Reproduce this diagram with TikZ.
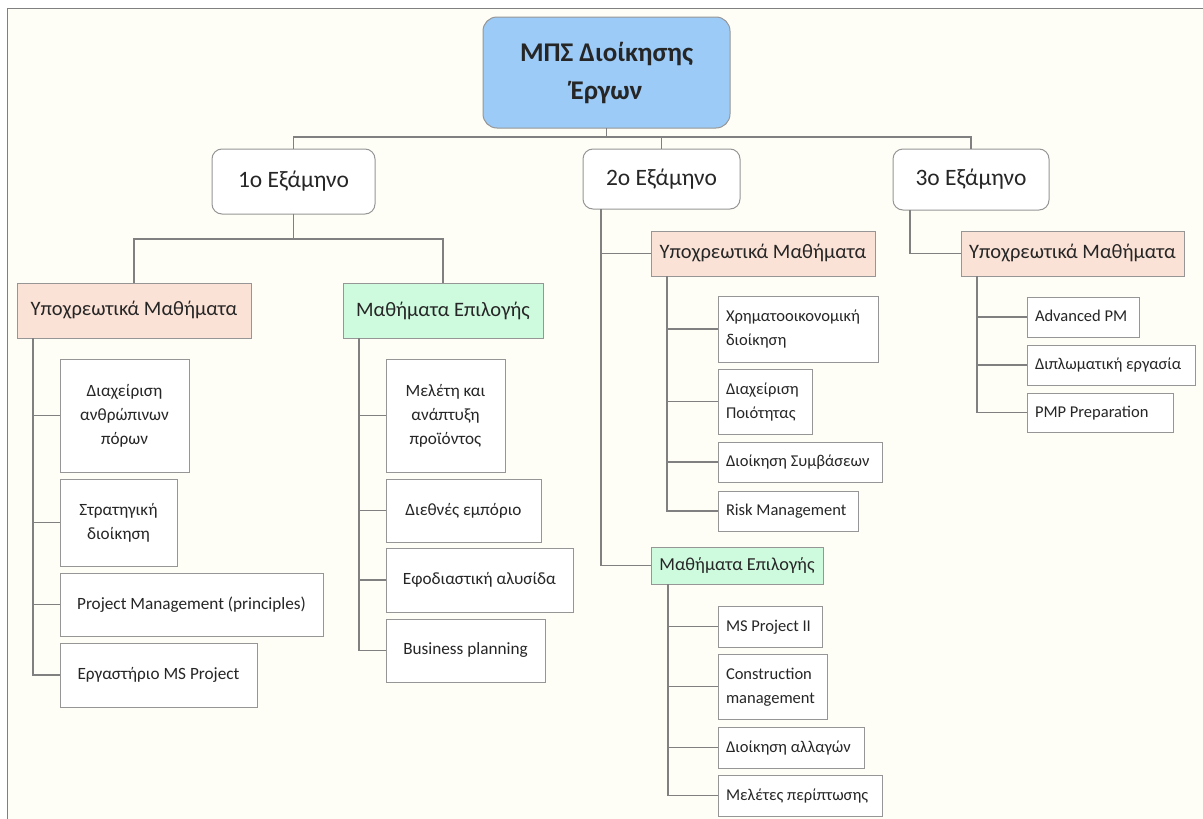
\documentclass[tikz,border=0pt]{standalone}
\usepackage{fontspec}
\setmainfont{Carlito}
\definecolor{bgc}{RGB}{255,254,246}
\definecolor{linec}{RGB}{128,128,128}
\definecolor{bordc}{RGB}{150,150,150}
\definecolor{salmon}{RGB}{251,226,214}
\definecolor{mint}{RGB}{206,250,222}
\definecolor{titleblue}{RGB}{156,203,247}
\definecolor{txt}{RGB}{38,38,38}
\newcommand\bx[7]{%
 \pgfmathsetmacro\bw{#5-#3}\pgfmathsetmacro\bh{#6-#4}%
 \pgfmathsetmacro\cx{(#3+#5)/2}\pgfmathsetmacro\cy{(#4+#6)/2}%
 \node[#2, minimum width=\bw pt, minimum height=\bh pt] (#1) at (\cx,\cy) {#7};}
\newcommand\bxl[7]{%
 \pgfmathsetmacro\tw{#5-#3-16}%
 \bx{#1}{#2}{#3}{#4}{#5}{#6}{\makebox[\tw pt][l]{\begin{tabular}{@{}l@{}}#7\end{tabular}}}}
\tikzset{
 base/.style={draw=bordc, line width=1pt, text=txt, inner sep=0pt, outer sep=0pt},
 titlebox/.style={base, fill=titleblue, rounded corners=14pt, font=\fontsize{27}{38}\selectfont\bfseries, align=center},
 sembox/.style={base, fill=white, rounded corners=10pt, font=\fontsize{23.5}{28}\selectfont},
 catR/.style={base, fill=salmon, font=\fontsize{20.5}{24}\selectfont},
 catG/.style={base, fill=mint, font=\fontsize{20.5}{24}\selectfont},
 catGs/.style={base, fill=mint, font=\fontsize{18.3}{22}\selectfont},
 leafc/.style={base, fill=white, align=center, font=\fontsize{17.2}{24}\selectfont},
 leafl/.style={base, fill=white, font=\fontsize{16.5}{24}\selectfont},
 conn/.style={draw=linec, line width=1.3pt},
}
\begin{document}
\begin{tikzpicture}[x=1pt,y=-1pt]
\useasboundingbox (0,0) rectangle (1203,819);
\fill[white] (0,0) rectangle (1203,819);
\filldraw[fill=bgc, draw=linec, line width=1pt] (7,8) rectangle (1215,830);

% title and semesters
\bx{title}{titlebox}{483}{17}{730}{128}{ΜΠΣ Διοίκησης\\Έργων}
\bx{s1}{sembox}{212}{149}{375}{214}{1ο Εξάμηνο}
\bx{s2}{sembox}{583}{149}{740}{209}{2ο Εξάμηνο}
\bx{s3}{sembox}{893}{149}{1049}{210}{3ο Εξάμηνο}

% semester 1
\bx{c1a}{catR}{17}{283}{251}{338}{Υποχρεωτικά Μαθήματα}
\bx{c1b}{catG}{343}{283}{543}{338}{Μαθήματα Επιλογής}
\bx{l11}{leafc}{60}{359}{189}{472}{Διαχείριση\\ανθρώπινων\\πόρων}
\bx{l12}{leafc}{60}{479}{177}{566}{Στρατηγική\\διοίκηση}
\bx{l13}{leafc}{60}{573}{323}{636}{Project Management (principles)}
\bx{l14}{leafc}{60}{643}{257}{707}{Εργαστήριο MS Project}
\bx{g11}{leafc}{386}{359}{505}{472}{Μελέτη και\\ανάπτυξη\\προϊόντος}
\bx{g12}{leafc}{386}{479}{541}{542}{Διεθνές εμπόριο}
\bx{g13}{leafc}{386}{548}{573}{612}{Εφοδιαστική αλυσίδα}
\bx{g14}{leafc}{386}{619}{545}{682}{Business planning}

% semester 2
\bx{c2a}{catR}{651}{231}{875}{276}{Υποχρεωτικά Μαθήματα}
\bx{c2b}{catGs}{651}{547}{823}{584}{Μαθήματα Επιλογής}
\bxl{l21}{leafl}{718}{296}{878}{362}{Χρηματοοικονομική\\διοίκηση}
\bxl{l22}{leafl}{718}{369}{812}{434}{Διαχείριση\\Ποιότητας}
\bxl{l23}{leafl}{718}{442}{882}{482}{Διοίκηση Συμβάσεων}
\bxl{l24}{leafl}{718}{491}{858}{531}{Risk Management}
\bxl{g21}{leafl}{718}{606}{822}{647}{MS Project II}
\bxl{g22}{leafl}{718}{654}{827}{719}{Construction\\management}
\bxl{g23}{leafl}{718}{727}{864}{768}{Διοίκηση αλλαγών}
\bxl{g24}{leafl}{718}{775}{882}{816}{Μελέτες περίπτωσης}

% semester 3
\bx{c3a}{catR}{961}{231}{1184}{276}{Υποχρεωτικά Μαθήματα}
\bxl{l31}{leafl}{1027}{297}{1139}{337}{Advanced PM}
\bxl{l32}{leafl}{1027}{345}{1195}{385}{Διπλωματική εργασία}
\bxl{l33}{leafl}{1027}{393}{1173}{432}{PMP Preparation}

% connectors
\coordinate (bus) at (title.south |- 0,137);
\draw[conn] (title.south) -- (bus);
\draw[conn] (s1.north) |- (bus) -| (s3.north);
\draw[conn] (bus -| s2.north) -- (s2.north);

\coordinate (b1) at (s1.south |- 0,239);
\draw[conn] (s1.south) -- (b1);
\draw[conn] (c1a.north) |- (b1) -| (c1b.north);

\coordinate (t1) at ([xshift=16pt]c1a.south west);
\foreach \n in {l11,l12,l13,l14} \draw[conn] (t1) |- (\n.west);
\coordinate (t2) at ([xshift=16pt]c1b.south west);
\foreach \n in {g11,g12,g13,g14} \draw[conn] (t2) |- (\n.west);

\coordinate (v2) at ([xshift=18pt]s2.south west);
\draw[conn] (v2) |- (c2a.west);
\draw[conn] (v2) |- (c2b.west);
\coordinate (t3) at ([xshift=16pt]c2a.south west);
\foreach \n in {l21,l22,l23,l24} \draw[conn] (t3) |- (\n.west);
\coordinate (t4) at ([xshift=17pt]c2b.south west);
\foreach \n in {g21,g22,g23,g24} \draw[conn] (t4) |- (\n.west);

\coordinate (v3) at ([xshift=17pt]s3.south west);
\draw[conn] (v3) |- (c3a.west);
\coordinate (t5) at ([xshift=16pt]c3a.south west);
\foreach \n in {l31,l32,l33} \draw[conn] (t5) |- (\n.west);
\end{tikzpicture}
\end{document}
